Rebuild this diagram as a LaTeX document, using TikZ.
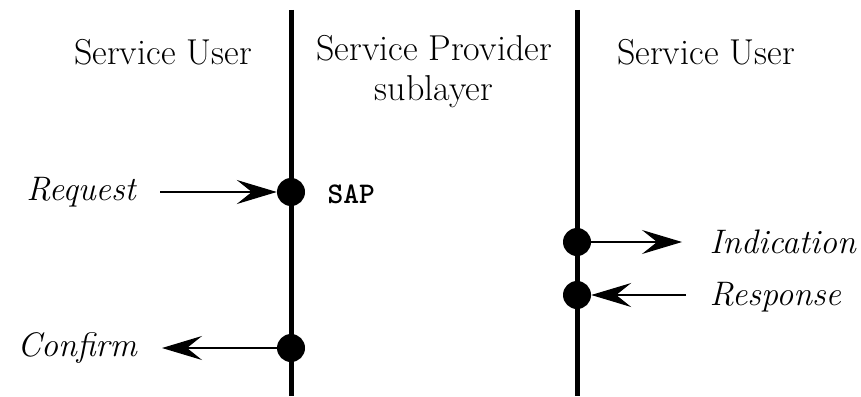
\documentclass[tikz,border=0pt]{standalone}
\usetikzlibrary{arrows.meta}
\begin{document}
\begin{tikzpicture}[x=1pt,y=-1pt,
  lifeline/.style={line width=5pt},
  sap/.style={circle,fill=black,inner sep=0pt,minimum size=28pt},
  msg/.style={line width=1.3pt,-{Stealth[length=40pt,width=24pt,inset=15pt]}},
  head/.style={font=\rmfamily\fontsize{36}{40}\selectfont,align=center},
  prim/.style={font=\rmfamily\itshape\fontsize{34}{40}\selectfont}]
\useasboundingbox (0,0) rectangle (861,396);
% two interface lines
\coordinate (lt) at (291,10); \coordinate (lb) at (291,396);
\coordinate (rt) at (577,10); \coordinate (rb) at (577,396);
\draw[lifeline] (lt) -- (lb);
\draw[lifeline] (rt) -- (rb);
% column headings
\node[head] (h1) at (163,52) {Service User};
\node[head,anchor=north] (h2) at (434,32) {Service Provider\\sublayer};
\node[head] (h3) at (706,52) {Service User};
% access points
\node[sap] (d1) at (291,192) {};
\node[sap] (d2) at (577,242) {};
\node[sap] (d3) at (577,295) {};
\node[sap] (d4) at (291,348) {};
% primitive labels
\node[prim] (req) at (81,192) {Request};
\node[font=\ttfamily\bfseries\fontsize{30}{32}\selectfont,anchor=west] (sapl) at (324,194) {SAP};
\node[prim,anchor=west] (ind) at (706,242) {Indication};
\node[prim,anchor=west] (resp) at (706,297) {Response};
\node[prim] (conf) at (77,348) {Confirm};
% message arrows
\coordinate (a1) at (160,192);
\coordinate (a2) at (682,242);
\coordinate (a3) at (686,295);
\coordinate (a4) at (162,348);
\draw[msg] (a1) -- (d1.west);
\draw[msg] (d2.east) -- (a2);
\draw[msg] (a3) -- (d3.east);
\draw[msg] (d4.west) -- (a4);
\end{tikzpicture}
\end{document}
